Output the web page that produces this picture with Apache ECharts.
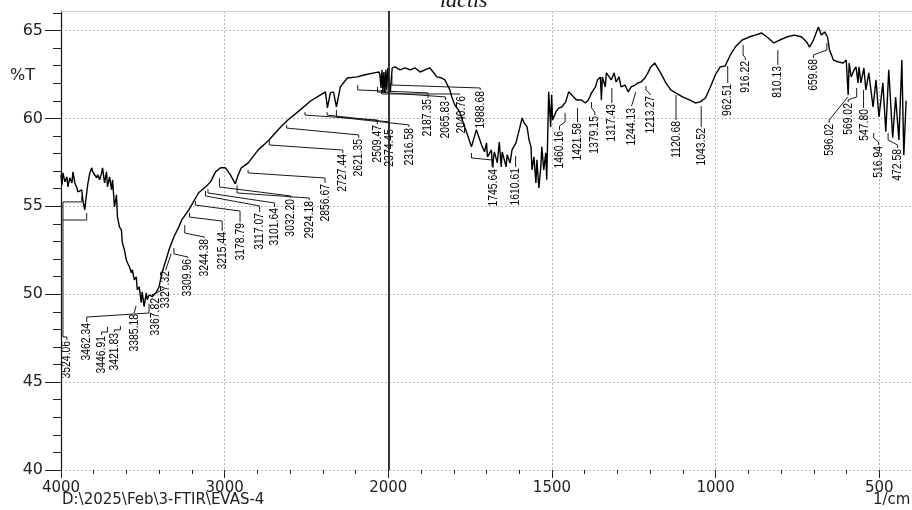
<!DOCTYPE html>
<html>
<head>
<meta charset="utf-8">
<script src="https://cdn.jsdelivr.net/npm/echarts@6/dist/echarts.min.js"></script>
<style>
  html, body { margin: 0; padding: 0; background: #ffffff; }
  #chart { width: 912px; height: 510px; }
</style>
</head>
<body>
<div id="chart"></div>
<script>
// FTIR spectrum: wavenumber (1/cm) and transmittance (%T)
const wavenumbers = [
  4000, 3994, 3988, 3976, 3964, 3958, 3946, 3933, 3927, 3915, 3903, 3897, 3885, 3873, 3867, 3855,
  3843, 3837, 3824, 3812, 3806, 3794, 3782, 3776, 3764, 3752, 3746, 3734, 3722, 3716, 3703, 3691,
  3685, 3673, 3661, 3655, 3643, 3631, 3625, 3613, 3601, 3594, 3582, 3570, 3564, 3552, 3540, 3534,
  3522, 3510, 3504, 3492, 3479, 3473, 3461, 3443, 3419, 3401, 3383, 3358, 3340, 3310, 3280, 3262,
  3219, 3159, 3116, 3086, 3056, 3025, 2995, 2965, 2935, 2917, 2898, 2856, 2795, 2735, 2656, 2614,
  2553, 2475, 2414, 2384, 2372, 2354, 2335, 2317, 2293, 2251, 2190, 2148, 2087, 2057, 2051, 2045,
  2039, 2033, 2027, 2021, 2015, 2009, 2003, 1997, 1994, 1988, 1979, 1964, 1949, 1933, 1918, 1903,
  1888, 1873, 1867, 1858, 1852, 1837, 1827, 1821, 1812, 1806, 1797, 1782, 1767, 1761, 1746, 1731,
  1715, 1706, 1700, 1697, 1685, 1682, 1676, 1667, 1661, 1655, 1652, 1640, 1637, 1628, 1622, 1610,
  1600, 1591, 1585, 1576, 1570, 1564, 1561, 1555, 1549, 1546, 1540, 1534, 1531, 1525, 1519, 1516,
  1510, 1504, 1501, 1498, 1488, 1479, 1470, 1458, 1449, 1440, 1425, 1410, 1398, 1389, 1379, 1367,
  1361, 1352, 1349, 1346, 1337, 1334, 1325, 1319, 1310, 1304, 1295, 1289, 1277, 1267, 1258, 1246,
  1237, 1228, 1216, 1207, 1198, 1186, 1177, 1168, 1152, 1137, 1122, 1101, 1080, 1062, 1047, 1031,
  1016, 1001, 986, 971, 955, 940, 919, 898, 880, 859, 843, 822, 804, 783, 759, 737,
  722, 713, 701, 692, 686, 677, 667, 658, 652, 640, 625, 610, 601, 595, 592, 586,
  577, 571, 565, 562, 556, 547, 541, 532, 519, 510, 501, 489, 480, 471, 459, 450,
  440, 431, 425, 418
];
const transmittance = [
  56.79, 56.22, 56.90, 56.39, 56.68, 56.11, 56.62, 56.33, 56.96, 56.33, 56.05, 55.82, 55.77, 55.94, 55.37, 54.80,
  55.77, 56.22, 56.90, 57.19, 56.96, 57.07, 56.62, 56.79, 56.51, 56.90, 57.19, 56.33, 56.96, 56.11, 56.68, 55.94,
  56.51, 54.97, 55.65, 54.40, 53.83, 53.66, 52.93, 52.53, 51.96, 51.79, 51.56, 51.22, 51.39, 50.82, 50.99, 50.25,
  50.42, 49.52, 50.14, 49.29, 50.08, 49.69, 49.97, 49.86, 50.08, 50.42, 51.22, 51.96, 52.53, 53.27, 53.83, 54.23,
  54.80, 55.77, 56.11, 56.39, 56.96, 57.19, 57.19, 56.79, 56.28, 56.79, 57.19, 57.47, 58.21, 58.72, 59.52, 59.91,
  60.37, 60.99, 61.34, 61.51, 60.60, 61.45, 61.51, 60.65, 61.79, 62.30, 62.36, 62.47, 62.59, 62.64, 62.47, 61.73,
  62.76, 61.51, 62.64, 61.45, 62.76, 61.62, 62.87, 62.76, 61.51, 62.87, 62.93, 62.76, 62.87, 62.76, 62.87, 62.64,
  62.76, 62.87, 62.93, 62.53, 62.36, 62.30, 62.19, 61.96, 61.62, 61.22, 60.77, 60.37, 59.52, 59.23, 58.38, 59.35,
  58.49, 58.10, 58.61, 57.81, 58.21, 57.24, 58.10, 57.47, 58.66, 57.24, 58.10, 57.24, 57.93, 57.47, 58.21, 58.61,
  59.35, 60.03, 59.74, 59.52, 58.78, 58.38, 57.07, 57.81, 56.33, 57.64, 56.05, 57.24, 58.38, 57.07, 58.04, 56.51,
  61.51, 59.52, 61.34, 59.91, 60.37, 60.60, 60.65, 60.94, 61.51, 61.34, 61.05, 61.05, 60.88, 61.05, 61.45, 61.79,
  62.19, 62.36, 61.05, 62.36, 61.79, 62.59, 62.36, 62.19, 62.59, 62.07, 62.36, 61.79, 61.90, 61.51, 61.79, 61.90,
  62.02, 62.07, 62.30, 62.59, 62.93, 63.15, 62.87, 62.59, 62.02, 61.62, 61.45, 61.22, 61.05, 60.88, 60.94, 61.16,
  61.79, 62.47, 62.93, 62.98, 63.61, 64.06, 64.46, 64.63, 64.74, 64.86, 64.63, 64.29, 64.46, 64.63, 64.74, 64.63,
  64.35, 64.06, 64.46, 64.92, 65.20, 64.74, 64.92, 64.63, 63.89, 63.32, 63.21, 63.15, 63.32, 61.34, 63.15, 62.36,
  62.76, 62.93, 62.02, 62.93, 62.02, 62.87, 61.62, 62.59, 60.65, 62.19, 60.08, 62.02, 59.24, 62.76, 58.90, 61.22,
  58.78, 63.32, 57.90, 61.00
];

// Axis ticks
const yMajorTicks = [40, 45, 50, 55, 60, 65];
const xMajorTickWavenumbers = [4000, 3000, 2000, 1500, 1000, 500];

// Peak annotations
const peakLabels = [
  '3524.06', '3462.34', '3446.91', '3421.83', '3385.18', '3367.82', '3327.32', '3309.96', '3244.38', '3215.44',
  '3178.79', '3117.07', '3101.64', '3032.20', '2924.18', '2856.67', '2727.44', '2621.35', '2509.47', '2374.45',
  '2316.58', '2187.35', '2065.83', '2040.76', '1988.68', '1745.64', '1610.61', '1460.16', '1421.58', '1379.15',
  '1317.43', '1244.13', '1213.27', '1120.68', '1043.52', '962.51', '916.22', '810.13', '659.68', '596.02',
  '569.02', '547.80', '516.94', '472.58'
];
// Where each rotated label ends (its upper end): [wavenumber, %T]
const labelAnchors = [
  [3964, 47.40], [3843, 48.42], [3752, 47.68], [3674, 47.85], [3553, 48.93], [3420, 49.84], [3360, 51.38], [3227, 52.06],
  [3124, 53.20], [3015, 53.60], [2906, 54.11], [2786, 54.68], [2695, 54.96], [2598, 55.47], [2483, 55.36], [2387, 56.33],
  [2278, 58.03], [2181, 58.89], [2067, 59.68], [1997, 59.45], [1937, 59.51], [1879, 61.16], [1825, 61.05], [1776, 61.33],
  [1719, 61.62], [1680, 57.18], [1611, 57.24], [1477, 59.34], [1422, 59.80], [1369, 60.19], [1317, 60.88], [1257, 60.65],
  [1200, 61.33], [1121, 59.91], [1044, 59.51], [963, 62.01], [909, 63.32], [810, 63.04], [701, 63.44], [653, 59.74],
  [595, 60.93], [546, 60.59], [502, 58.49], [444, 58.32]
];
// Leader lines from each band to its label: lists of [wavenumber, %T] polylines
const leaderPaths = [
  [[[3873, 55.59], [3873, 55.25], [3988, 55.25], [3988, 47.57], [3964, 47.57], [3964, 47.40]],
   [[3843, 54.62], [3843, 54.22], [3988, 54.22]]],
  [[[3462, 49.45], [3462, 48.93], [3843, 48.70], [3843, 48.42]]],
  [[[3716, 48.14], [3716, 47.85], [3752, 47.85], [3752, 47.68]]],
  [[[3637, 48.19], [3637, 47.97], [3674, 47.97], [3674, 47.85]]],
  [[[3541, 49.33], [3553, 48.93]]],
  [[[3368, 50.30], [3444, 49.96], [3444, 49.84]]],
  [[[3327, 52.30], [3360, 51.38]]],
  [[[3310, 52.63], [3310, 52.29], [3227, 52.12], [3227, 52.06]]],
  [[[3244, 53.93], [3244, 53.48], [3124, 53.25], [3124, 53.20]]],
  [[[3215, 54.62], [3215, 54.39], [3015, 54.16], [3015, 53.60]]],
  [[[3179, 55.30], [3179, 55.07], [2906, 54.73], [2906, 54.11]]],
  [[[3117, 55.87], [3117, 55.59], [2786, 55.02], [2786, 54.68]]],
  [[[3102, 55.98], [3102, 55.76], [2695, 55.19], [2695, 54.96]]],
  [[[3032, 56.60], [3032, 56.10], [2598, 55.59], [2598, 55.47]]],
  [[[2924, 56.20], [2924, 55.76], [2483, 55.47], [2483, 55.36]]],
  [[[2857, 57.07], [2857, 56.90], [2387, 56.61], [2387, 56.33]]],
  [[[2727, 58.77], [2727, 58.49], [2278, 58.20], [2278, 58.03]]],
  [[[2621, 59.63], [2621, 59.45], [2181, 59.06], [2181, 58.89]]],
  [[[2509, 60.36], [2509, 60.19], [2067, 59.91], [2067, 59.68]]],
  [[[2374, 60.36], [2374, 60.19], [1997, 59.80], [1997, 59.45]]],
  [[[2317, 60.48], [2317, 60.08], [1937, 59.63], [1937, 59.51]]],
  [[[2187, 61.90], [2187, 61.62], [1879, 61.45], [1879, 61.16]]],
  [[[2066, 61.79], [2066, 61.50], [1825, 61.22], [1825, 61.05]]],
  [[[2041, 61.62], [2041, 61.39], [1783, 61.39], [1783, 61.33]]],
  [[[1989, 62.41], [1989, 61.90], [1719, 61.73], [1719, 61.62]]],
  [[[1746, 58.03], [1746, 57.75], [1680, 57.63], [1680, 57.18]]],
  [[[1611, 57.86], [1611, 57.24]]],
  [[[1460, 60.31], [1460, 59.80], [1477, 59.57], [1477, 59.34]]],
  [[[1422, 60.59], [1422, 59.80]]],
  [[[1379, 60.93], [1379, 60.59], [1369, 60.36], [1369, 60.19]]],
  [[[1317, 61.73], [1317, 60.88]]],
  [[[1244, 61.50], [1251, 61.05], [1257, 60.70]]],
  [[[1213, 61.84], [1213, 61.62], [1200, 61.39], [1200, 61.33]]],
  [[[1121, 61.33], [1121, 59.91]]],
  [[[1044, 60.70], [1044, 59.51]]],
  [[[963, 62.98], [963, 62.01]]],
  [[[916, 64.18], [916, 63.61], [909, 63.44], [909, 63.32]]],
  [[[810, 63.89], [810, 63.04]]],
  [[[660, 64.29], [660, 63.89], [701, 63.61], [701, 63.44]]],
  [[[596, 61.22], [653, 59.91], [653, 59.74]]],
  [[[569, 61.73], [569, 61.22], [595, 61.05], [595, 60.93]]],
  [[[548, 61.62], [548, 60.59]]],
  [[[517, 59.17], [517, 58.89], [502, 58.66], [502, 58.49]]],
  [[[473, 59.17], [473, 58.77], [444, 58.49], [444, 58.32]]]
];

// The wavenumber scale is compressed 2:1 above 2000 1/cm.
const toAxis = wn => (wn <= 2000 ? wn : 2000 + (wn - 2000) / 2);
const fromAxis = v => (v <= 2000 ? v : 2000 + (v - 2000) * 2);

const xMajor = xMajorTickWavenumbers.map(toAxis);
const xMinor = [];
for (let v = 500; v <= 3000; v += 100) if (!xMajor.includes(v)) xMinor.push(v);
const yMinor = [];
for (let v = 41; v <= 66; v++) if (!yMajorTicks.includes(v)) yMinor.push(v);

const X_MIN = 400, X_MAX = 3000, Y_MIN = 40, Y_MAX = 66.11;
const axisFont = 'DejaVu Sans';
const gridDash = { color: '#b8b8b8', width: 1, type: [2, 2] };

const spectrum = wavenumbers.map((w, i) => [toAxis(w), transmittance[i]]);

const chart = echarts.init(document.getElementById('chart'), null, { renderer: 'canvas' });
chart.setOption({
  animation: false,
  backgroundColor: '#ffffff',
  title: [
    { text: 'lactis', left: 440, top: -10, padding: 0,
      textStyle: { fontFamily: 'Liberation Serif', fontStyle: 'italic', fontWeight: 'normal', fontSize: 22, color: '#111' } },
    { text: '%T', left: 10, top: 68, padding: 0,
      textStyle: { fontFamily: axisFont, fontWeight: 'normal', fontSize: 16, color: '#222' } },
    { text: 'D:\\2025\\Feb\\3-FTIR\\EVAS-4', left: 62, top: 493, padding: 0,
      textStyle: { fontFamily: axisFont, fontWeight: 'normal', fontSize: 15, color: '#222' } },
    { text: '1/cm', left: 873, top: 493, padding: 0,
      textStyle: { fontFamily: axisFont, fontWeight: 'normal', fontSize: 15, color: '#222' } }
  ],
  grid: { left: 61, top: 11, width: 861, height: 459, containLabel: false },
  xAxis: [
    {
      type: 'value', min: X_MIN, max: X_MAX, inverse: true, position: 'bottom',
      axisLine: { show: false },
      axisTick: { show: true, customValues: xMajor, length: 8, lineStyle: { color: '#222' } },
      axisLabel: { customValues: xMajor, margin: 11, fontFamily: axisFont, fontSize: 15, color: '#222',
        formatter: v => String(Math.round(fromAxis(v))) },
      splitLine: { show: true, lineStyle: gridDash }
    },
    {
      type: 'value', min: X_MIN, max: X_MAX, inverse: true, position: 'bottom',
      axisLine: { show: false },
      axisTick: { show: true, customValues: xMinor, length: 4, lineStyle: { color: '#222' } },
      axisLabel: { show: false },
      splitLine: { show: false }
    },
    {
      type: 'value', min: X_MIN, max: X_MAX, inverse: true, position: 'top',
      axisLine: { show: true, lineStyle: { color: '#cfcfcf', width: 1 } },
      axisTick: { show: false }, axisLabel: { show: false }, splitLine: { show: false }
    }
  ],
  yAxis: [
    {
      type: 'value', min: Y_MIN, max: Y_MAX, position: 'left',
      axisLine: { show: true, lineStyle: { color: '#111', width: 1.2 } },
      axisTick: { show: true, customValues: yMajorTicks, length: 16, lineStyle: { color: '#222' } },
      axisLabel: { customValues: yMajorTicks, margin: 18, fontFamily: axisFont, fontSize: 16, color: '#222' },
      splitLine: { show: true, lineStyle: gridDash }
    },
    {
      type: 'value', min: Y_MIN, max: Y_MAX, position: 'left',
      axisLine: { show: false },
      axisTick: { show: true, customValues: yMinor, length: 8, lineStyle: { color: '#222' } },
      axisLabel: { show: false },
      splitLine: { show: false }
    }
  ],
  series: [
    {
      name: 'EVAS-4',
      type: 'line',
      xAxisIndex: 0, yAxisIndex: 0,
      data: spectrum,
      showSymbol: false,
      lineStyle: { color: '#000', width: 1.4 },
      clip: true,
      markLine: {
        silent: true, symbol: 'none', label: { show: false },
        lineStyle: { color: '#222', width: 1.8, type: 'solid' },
        data: [{ xAxis: toAxis(2000) }]
      }
    },
    {
      name: 'peaks',
      type: 'custom',
      xAxisIndex: 0, yAxisIndex: 0,
      data: labelAnchors.map((a, i) => [toAxis(a[0]), a[1], i]),
      renderItem: (params, api) => {
        const i = api.value(2);
        const anchor = api.coord([api.value(0), api.value(1)]);
        const children = leaderPaths[i].map(path => ({
          type: 'polyline',
          shape: { points: path.map(p => api.coord([toAxis(p[0]), p[1]])) },
          style: { stroke: '#1a1a1a', lineWidth: 1, fill: null }
        }));
        children.push({
          type: 'text',
          x: anchor[0], y: anchor[1] + 1,
          rotation: Math.PI / 2,
          scaleX: 0.8,
          style: {
            text: peakLabels[i],
            align: 'right', verticalAlign: 'middle',
            fontFamily: 'Liberation Sans', fontSize: 13,
            fill: '#000'
          }
        });
        return { type: 'group', children };
      }
    }
  ]
});
</script>
</body>
</html>
